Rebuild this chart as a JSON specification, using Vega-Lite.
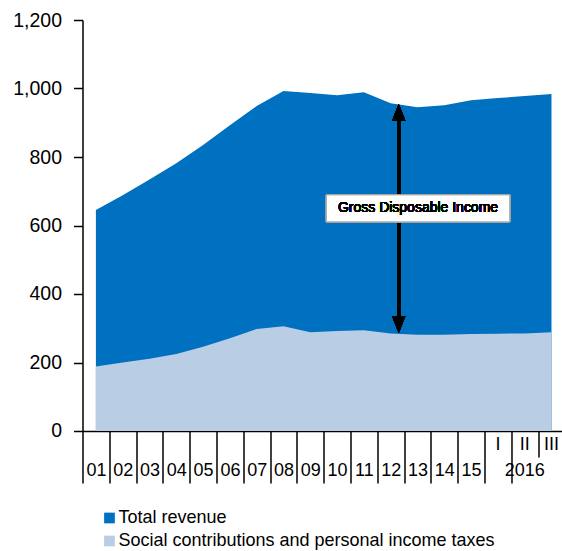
{
  "$schema": "https://vega.github.io/schema/vega-lite/v6.json",
  "width": 482.4,
  "height": 411,
  "autosize": {"type": "none"},
  "padding": {"left": 82.5, "top": 20, "right": 0, "bottom": 120},
  "background": "white",
  "config": {
    "view": {"stroke": null},
    "font": "Liberation Sans",
    "scale": {"bandPaddingInner": 0, "bandPaddingOuter": 0}
  },
  "data": {
    "values": [
      {"period": "01", "total": 645, "social": 188},
      {"period": "02", "total": 688, "social": 200},
      {"period": "03", "total": 734, "social": 211},
      {"period": "04", "total": 782, "social": 225},
      {"period": "05", "total": 835, "social": 246},
      {"period": "06", "total": 893, "social": 271},
      {"period": "07", "total": 949, "social": 298},
      {"period": "08", "total": 993, "social": 306},
      {"period": "09", "total": 987, "social": 288},
      {"period": "10", "total": 980, "social": 292},
      {"period": "11", "total": 989, "social": 294},
      {"period": "12", "total": 957, "social": 285},
      {"period": "13", "total": 945, "social": 281},
      {"period": "14", "total": 951, "social": 281},
      {"period": "15", "total": 966, "social": 283},
      {"period": "I", "total": 972, "social": 284},
      {"period": "II", "total": 978, "social": 285},
      {"period": "III", "total": 984, "social": 288}
    ]
  },
  "layer": [
    {
      "mark": {"type": "area", "interpolate": "linear"},
      "encoding": {
        "x": {
          "field": "period", "type": "ordinal",
          "scale": {"type": "band", "domain": ["01","02","03","04","05","06","07","08","09","10","11","12","13","14","15","I","II","III"]},
          "axis": {
            "orient": "bottom", "title": null, "grid": false, "tickBand": "extent",
            "domainColor": "black", "domainWidth": 1.5, "tickColor": "black", "tickWidth": 1.5,
            "tickSize": {"condition": {"test": "datum.value === 'II' || datum.value === 'III'", "value": 26}, "value": 52},
            "labelExpr": "datum.value === 'I' || datum.value === 'II' || datum.value === 'III' ? '' : datum.value",
            "labelPadding": -21, "labelFontSize": 18, "labelColor": "black", "labelAngle": 0, "labelOverlap": false
          }
        },
        "y": {
          "field": "total", "type": "quantitative",
          "scale": {"domain": [0, 1200], "nice": false},
          "axis": {
            "title": null, "grid": false, "values": [0,200,400,600,800,1000,1200],
            "labelExpr": "format(datum.value, ',')",
            "labelFontSize": 19.5, "labelColor": "black", "labelPadding": 12, "tickSize": 9,
            "domainColor": "black", "domainWidth": 1.5, "tickColor": "black", "tickWidth": 1.5
          }
        },
        "color": {
          "datum": "Total revenue", "type": "nominal",
          "scale": {"domain": ["Total revenue", "Social contributions and personal income taxes"], "range": ["#0070c0", "#b9cde5"]},
          "legend": {
            "orient": "none", "legendX": 18, "legendY": 489, "direction": "vertical", "title": null,
            "symbolType": "square", "symbolSize": 115, "symbolStrokeWidth": 0,
            "labelFontSize": 18, "labelColor": "black", "labelOffset": 0, "rowPadding": 5, "labelLimit": 0
          }
        }
      }
    },
    {
      "mark": {"type": "area", "interpolate": "linear"},
      "encoding": {
        "x": {
          "field": "period", "type": "ordinal", "scale": {"type": "band"},
          "axis": {
            "orient": "bottom", "title": null, "grid": false, "domain": false, "ticks": false, "tickSize": 0,
            "labelExpr": "datum.value === 'I' || datum.value === 'II' || datum.value === 'III' ? datum.value : ''",
            "labelPadding": 5, "labelFontSize": 18, "labelColor": "black", "labelAngle": 0, "labelOverlap": false
          }
        },
        "y": {"field": "social", "type": "quantitative"},
        "color": {"datum": "Social contributions and personal income taxes", "type": "nominal"}
      }
    },
    {
      "mark": {"type": "rule", "color": "black", "strokeWidth": 3},
      "encoding": {
        "x": {
          "datum": "12", "type": "ordinal", "bandPosition": 0.8, "scale": {"type": "band"},
          "axis": {
            "orient": "bottom", "title": null, "grid": false, "domain": false, "ticks": false, "tickSize": 0,
            "values": ["II"], "labelExpr": "'2016'",
            "labelPadding": 31, "labelFontSize": 18, "labelColor": "black", "labelAngle": 0, "labelOverlap": false
          }
        },
        "y": {"datum": 925, "type": "quantitative"},
        "y2": {"datum": 316}
      }
    },
    {
      "mark": {"type": "point", "filled": true, "color": "black", "opacity": 1, "shape": "M0,-1L-0.78,1L0.78,1Z", "size": 289},
      "encoding": {
        "x": {"datum": "12", "type": "ordinal", "bandPosition": 0.8, "scale": {"type": "band"}, "axis": null},
        "y": {"datum": 930, "type": "quantitative"}
      }
    },
    {
      "mark": {"type": "point", "filled": true, "color": "black", "opacity": 1, "shape": "M0,1L-0.78,-1L0.78,-1Z", "size": 289},
      "encoding": {
        "x": {"datum": "12", "type": "ordinal", "bandPosition": 0.8, "scale": {"type": "band"}, "axis": null},
        "y": {"datum": 311, "type": "quantitative"}
      }
    },
    {
      "mark": {"type": "point", "filled": true, "fill": "white", "stroke": "#a6a6a6", "strokeWidth": 1, "opacity": 1, "shape": "M-1,-0.147L1,-0.147L1,0.147L-1,0.147Z", "size": 33600},
      "encoding": {
        "x": {"datum": "13", "type": "ordinal", "bandPosition": 0.52, "scale": {"type": "band"}, "axis": null},
        "y": {"datum": 650, "type": "quantitative"}
      }
    },
    {
      "mark": {"type": "text", "text": "Gross Disposable Income", "fontSize": 14, "fontWeight": "normal", "fill": "black", "align": "center", "baseline": "middle"},
      "encoding": {
        "x": {"datum": "13", "type": "ordinal", "bandPosition": 0.52, "scale": {"type": "band"}, "axis": null},
        "y": {"datum": 650, "type": "quantitative"}
      }
    }
  ],
  "resolve": {"axis": {"x": "independent"}}
}
